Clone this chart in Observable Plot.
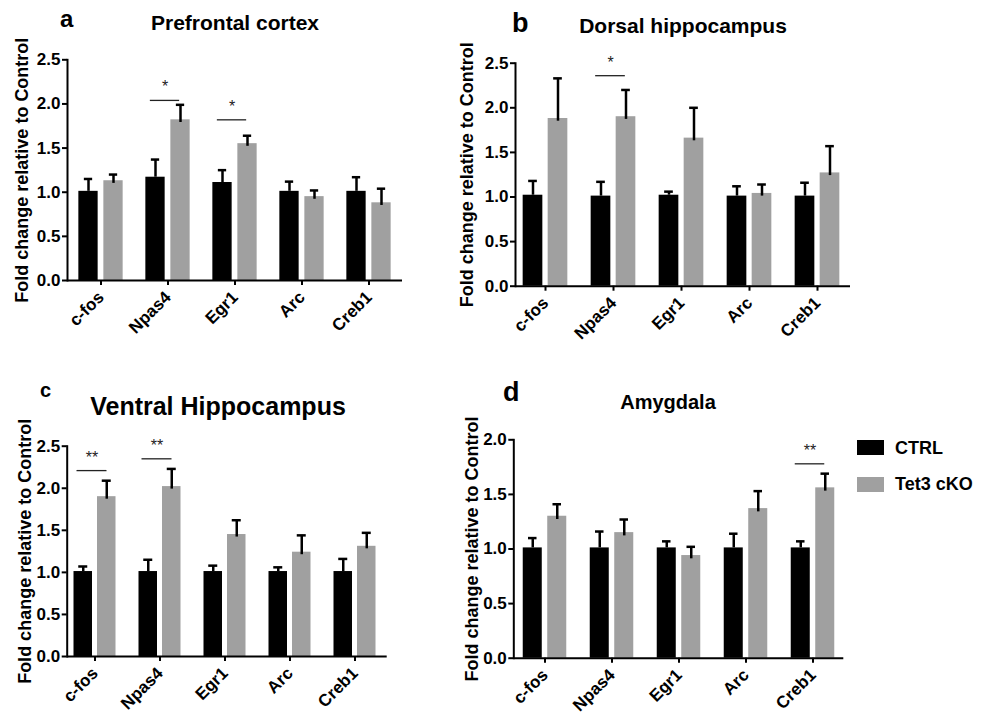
<!DOCTYPE html>
<html><head><meta charset="utf-8">
<script src="https://cdn.jsdelivr.net/npm/d3@7"></script>
<script src="https://cdn.jsdelivr.net/npm/@observablehq/plot@0.6"></script>
<style>
body{margin:0;background:#fff;}
#root{position:relative;width:987px;height:714px;overflow:hidden;font-family:"Liberation Sans",Arial,sans-serif;background:#fff;}
.lbl{position:absolute;font-weight:bold;line-height:1;white-space:nowrap;color:#000;}
.sw{position:absolute;}
#root svg{position:absolute;overflow:visible;}
</style></head><body><div id="root"></div>
<script>
// ---- data ----
const genes = ["c-fos", "Npas4", "Egr1", "Arc", "Creb1"];
const groups = ["CTRL", "Tet3 cKO"];
const yLabel = "Fold change relative to Control";

// a: Prefrontal cortex
const aCtrl    = [1.01, 1.17, 1.11, 1.01, 1.01];
const aCtrlTop = [1.15, 1.37, 1.25, 1.12, 1.17];
const aKo      = [1.13, 1.82, 1.55, 0.95, 0.88];
const aKoTop   = [1.20, 1.99, 1.64, 1.02, 1.04];
const aSig = [{gene: "Npas4", y: 2.04, label: "*"}, {gene: "Egr1", y: 1.82, label: "*"}];

// b: Dorsal hippocampus
const bCtrl    = [1.02, 1.01, 1.02, 1.01, 1.01];
const bCtrlTop = [1.18, 1.17, 1.06, 1.12, 1.16];
const bKo      = [1.88, 1.90, 1.66, 1.04, 1.27];
const bKoTop   = [2.33, 2.20, 2.00, 1.14, 1.57];
const bSig = [{gene: "Npas4", y: 2.36, label: "*"}];

// c: Ventral Hippocampus
const cCtrl    = [1.01, 1.01, 1.01, 1.01, 1.01];
const cCtrlTop = [1.07, 1.15, 1.08, 1.06, 1.16];
const cKo      = [1.90, 2.02, 1.45, 1.24, 1.31];
const cKoTop   = [2.09, 2.23, 1.62, 1.44, 1.47];
const cSig = [{gene: "c-fos", y: 2.21, label: "**"}, {gene: "Npas4", y: 2.35, label: "**"}];

// d: Amygdala
const dCtrl    = [1.01, 1.01, 1.01, 1.01, 1.01];
const dCtrlTop = [1.10, 1.16, 1.07, 1.14, 1.07];
const dKo      = [1.30, 1.15, 0.94, 1.37, 1.56];
const dKoTop   = [1.41, 1.27, 1.02, 1.53, 1.69];
const dSig = [{gene: "Creb1", y: 1.78, label: "**"}];

const ticks25 = [0, 0.5, 1.0, 1.5, 2.0, 2.5];
const ticks20 = [0, 0.5, 1.0, 1.5, 2.0];

// ---- drawing ----
const FONT = '"Liberation Sans", Arial, sans-serif';
const BLACK = "#000000";
const GRAY = "#a0a0a0";
const root = document.getElementById("root");

function panel(cfg) {
  const step = (cfg.xr[1] - cfg.xr[0]) / genes.length;
  const half = step / 2;
  const gap = 2.5, w = cfg.barW;
  const cc = gap + w / 2;
  const capHalf = 4.5;
  const rows = genes.map((g, i) => ({gene: g, ctrl: cfg.ctrl[i], ctrlTop: cfg.ctrlTop[i], ko: cfg.ko[i], koTop: cfg.koTop[i]}));
  const plot = Plot.plot({
    width: cfg.width, height: cfg.height,
    marginTop: cfg.mt, marginBottom: cfg.mb, marginLeft: cfg.ml, marginRight: cfg.mr,
    style: {fontFamily: FONT, fontSize: "16px", fontWeight: "bold", color: "#000", background: "transparent", overflow: "visible"},
    x: {type: "band", domain: genes, range: cfg.xr, padding: 0, label: null},
    y: {domain: [0, cfg.yMax], label: null},
    marks: [
      Plot.barY(rows, {x: "gene", y: "ctrl", fill: BLACK, insetLeft: half - gap - w, insetRight: half + gap}),
      Plot.barY(rows, {x: "gene", y: "ko", fill: GRAY, insetLeft: half + gap, insetRight: half - gap - w}),
      Plot.ruleX(rows, {x: "gene", y1: "ctrl", y2: "ctrlTop", dx: -cc, stroke: BLACK, strokeWidth: 2.5}),
      Plot.ruleX(rows, {x: "gene", y1: d => d.ko - 0.03, y2: "koTop", dx: cc, stroke: BLACK, strokeWidth: 2.5}),
      Plot.tickY(rows, {x: "gene", y: "ctrlTop", insetLeft: half - cc - capHalf, insetRight: half + cc - capHalf, stroke: BLACK, strokeWidth: 2.5}),
      Plot.tickY(rows, {x: "gene", y: "koTop", insetLeft: half + cc - capHalf, insetRight: half - cc - capHalf, stroke: BLACK, strokeWidth: 2.5}),
      Plot.tickY(cfg.sig, {x: "gene", y: "y", insetLeft: half - 18, insetRight: half - 12, stroke: "#222", strokeWidth: 1.3}),
      Plot.text(cfg.sig, {x: "gene", y: "y", text: "label", dx: -3, dy: -8, fontSize: 16, fontWeight: "normal", fill: "#222", lineAnchor: "bottom"}),
      Plot.ruleY([0], {stroke: BLACK, strokeWidth: 2}),
      Plot.frame({anchor: "left", stroke: BLACK, strokeWidth: 2}),
      Plot.axisY({ticks: cfg.yTicks, tickFormat: d3.format(".1f"), tickSize: 5, tickPadding: 2, strokeWidth: 2, fontSize: 17, fontWeight: "bold"}),
      Plot.axisX({tickSize: 5, tickPadding: 9, tickRotate: -45, strokeWidth: 2, fontSize: 17, fontWeight: "bold"}),
      Plot.text([yLabel], {text: d => d, frameAnchor: "left", textAnchor: "middle", rotate: -90, dx: cfg.labelDx, fontSize: 18, fontWeight: "bold"})
    ]
  });
  plot.style.left = cfg.left + "px";
  plot.style.top = cfg.top + "px";
  root.appendChild(plot);
}

function label(text, size, x, baseline, center) {
  const el = document.createElement("div");
  el.className = "lbl";
  el.textContent = text;
  el.style.fontSize = size + "px";
  el.style.top = (baseline - 0.85 * size) + "px";
  el.style.left = x + "px";
  if (center) el.style.transform = "translateX(-50%)";
  root.appendChild(el);
}

panel({ctrl: aCtrl, ctrlTop: aCtrlTop, ko: aKo, koTop: aKoTop, sig: aSig, yMax: 2.5, yTicks: ticks25,
  left: 0, top: 0, width: 440, height: 370, mt: 59.3, mb: 90, ml: 67, mr: 38, xr: [65.5, 404], barW: 20, labelDx: -45});
panel({ctrl: bCtrl, ctrlTop: bCtrlTop, ko: bKo, koTop: bKoTop, sig: bSig, yMax: 2.5, yTicks: ticks25,
  left: 440, top: 0, width: 547, height: 370, mt: 62.7, mb: 84.3, ml: 75, mr: 137, xr: [70.2, 411.8], barW: 20, labelDx: -48});
panel({ctrl: cCtrl, ctrlTop: cCtrlTop, ko: cKo, koTop: cKoTop, sig: cSig, yMax: 2.5, yTicks: ticks25,
  left: 0, top: 370, width: 440, height: 344, mt: 75.7, mb: 58, ml: 66.7, mr: 53.3, xr: [61.8, 386.8], barW: 18.5, labelDx: -42});
panel({ctrl: dCtrl, ctrlTop: dCtrlTop, ko: dKo, koTop: dKoTop, sig: dSig, yMax: 2.0, yTicks: ticks20,
  left: 440, top: 370, width: 547, height: 344, mt: 69.3, mb: 56.3, ml: 73.3, mr: 143.7, xr: [69.6, 407], barW: 19.5, labelDx: -42});

// panel letters and titles
label("a", 24, 60, 27, false);
label("Prefrontal cortex", 21, 235, 30, true);
label("b", 27, 512, 33, false);
label("Dorsal hippocampus", 21, 683, 33, true);
label("c", 20, 40, 397, false);
label("Ventral Hippocampus", 25, 218, 415, true);
label("d", 27, 503, 402, false);
label("Amygdala", 20, 668, 409, true);

// legend
const legendColors = [BLACK, GRAY];
groups.forEach((g, i) => {
  const sw = document.createElement("div");
  sw.className = "sw";
  sw.style.cssText = `left:857px;top:${440 + i * 37}px;width:27px;height:15px;background:${legendColors[i]};`;
  root.appendChild(sw);
  label(g, 18, 895, 454 + i * 36, false);
});
</script>
</body></html>
